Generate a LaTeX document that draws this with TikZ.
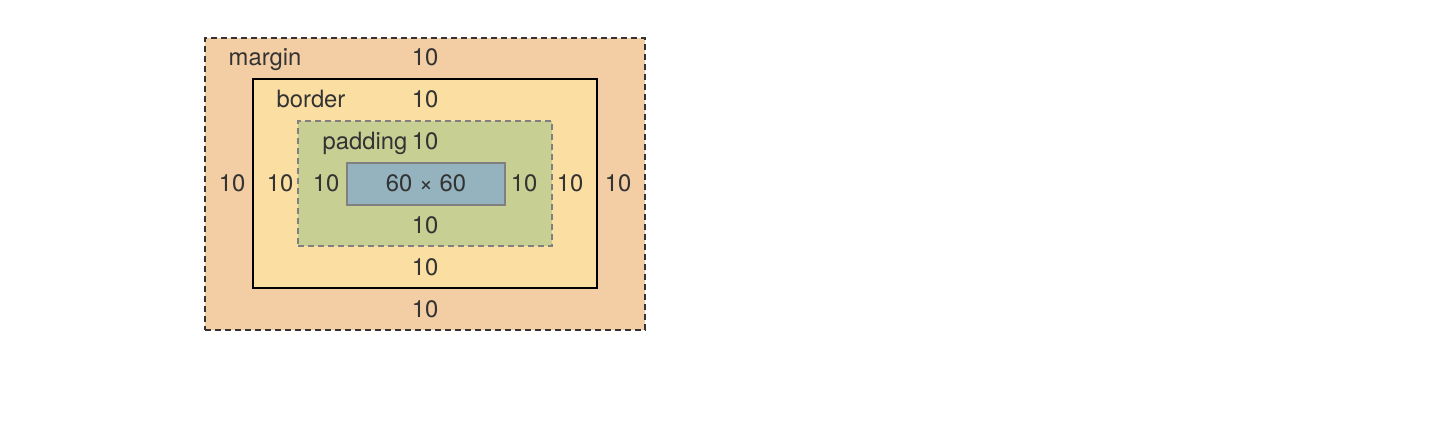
\documentclass[tikz,border=0pt]{standalone}
\usepackage{fontspec}
\setmainfont{TeX Gyre Heros}
\usetikzlibrary{positioning}
\definecolor{marginfill}{RGB}{243,205,163}
\definecolor{borderfill}{RGB}{250,222,162}
\definecolor{paddingfill}{RGB}{199,207,147}
\definecolor{contentfill}{RGB}{148,179,190}
\definecolor{txt}{RGB}{51,51,51}
\tikzset{
  font=\fontsize{11.9}{13}\selectfont,
  every node/.append style={text=txt},
  layer/.style={
    inner sep=0pt,
    outer sep=0pt
  },
  marginbox/.style={
    layer,
    fill=marginfill,
    draw=txt,
    dash pattern=on 3pt off 2pt,
    line width=0.7pt,
    minimum width=220pt,
    minimum height=146pt
  },
  borderbox/.style={
    layer,
    fill=borderfill,
    draw=black,
    line width=1pt,
    minimum width=172pt,
    minimum height=104.5pt
  },
  paddingbox/.style={
    layer,
    fill=paddingfill,
    draw=gray,
    dash pattern=on 3pt off 2pt,
    line width=0.7pt,
    minimum width=127pt,
    minimum height=62.5pt
  },
  contentbox/.style={
    layer,
    fill=contentfill,
    draw=gray,
    line width=0.6pt,
    minimum width=79pt,
    minimum height=21pt
  },
  val/.style={inner sep=1pt, text height=0.72em, text depth=0pt}
}
\begin{document}
\begin{tikzpicture}[x=0.5pt,y=-0.5pt]
\useasboundingbox (0,0) rectangle (1448,428);

% nested boxes
\node[marginbox] (margin) at (425,184) {};
\node[borderbox] (border) at (425,183.5) {};
\node[paddingbox] (padding) at (425,183.5) {};
\node[contentbox, text height=0.72em, text depth=0pt] (content) at (426,184) {60 × 60};

% names
\node[val] (mname) at (265,58) {margin};
\node[val] (bname) at (311,100) {border};
\node[val] (pname) at (365,142) {padding};

% top values
\node[val] (mtop) at (425,58) {10};
\node[val] (btop) at (425,100) {10};
\node[val] (ptop) at (425,142) {10};

% bottom values
\node[val] (pbot) at (425,226) {10};
\node[val] (bbot) at (425,268) {10};
\node[val] (mbot) at (425,310) {10};

% left and right values
\node[val] (mleft) at (232,184) {10};
\node[val] (bleft) at (280,184) {10};
\node[val] (pleft) at (326,184) {10};
\node[val] (pright) at (524,184) {10};
\node[val] (bright) at (570,184) {10};
\node[val] (mright) at (618,184) {10};

\end{tikzpicture}
\end{document}
